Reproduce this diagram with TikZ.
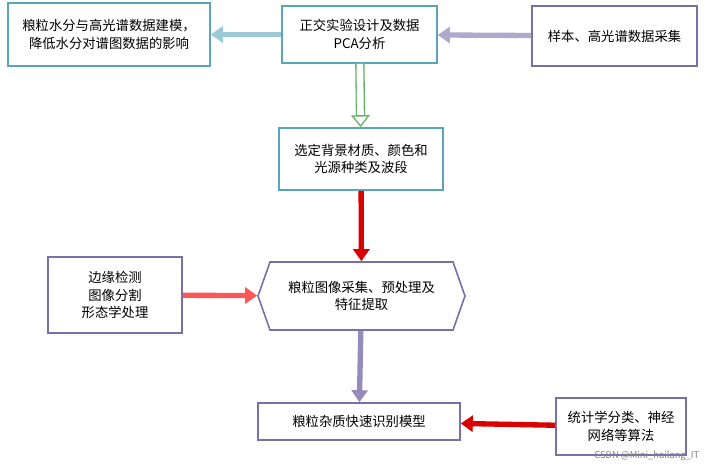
\documentclass[tikz,border=0pt]{standalone}
\usepackage{fontspec}
\setmainfont{Noto Sans CJK SC}
\usetikzlibrary{arrows.meta,shapes.geometric,shapes.misc}
\definecolor{tealb}{HTML}{5AA6B8}
\definecolor{purb}{HTML}{7A6FA8}
\begin{document}
\begin{tikzpicture}[x=0.75pt,y=-0.75pt,
  box/.style={draw=#1,line width=1.2pt,fill=white,align=center,font=\fontsize{10}{13}\selectfont,inner sep=0pt},
  fat/.style={line width=4pt,draw=#1,-{Triangle[length=9pt,width=12pt,fill=#1]}}]
\useasboundingbox[fill=white] (0,0) rectangle (706,468);
\node[box=tealb,minimum width=202*0.75pt,minimum height=63*0.75pt] (tl) at (109,34.5) {粮粒水分与高光谱数据建模，\\降低水分对谱图数据的影响};
\node[box=tealb,minimum width=155*0.75pt,minimum height=57*0.75pt] (tm) at (359.5,34.5) {正交实验设计及数据\\PCA分析};
\node[box=purb,minimum width=165*0.75pt,minimum height=60*0.75pt] (tr) at (614.5,36) {样本、高光谱数据采集};
\node[box=tealb,minimum width=164*0.75pt,minimum height=62*0.75pt] (m2) at (361,159) {选定背景材质、颜色和\\光源种类及波段};
\draw[purb,line width=1.2pt,fill=white] (258,296) -- (270,262) -- (453,262) -- (465,296) -- (453,330) -- (270,330) -- cycle;
\node[box=none,draw=none,fill=none,minimum width=207*0.75pt,minimum height=68*0.75pt] (hx) at (361.5,296) {粮粒图像采集、预处理及\\特征提取};
\node[box=purb,minimum width=134*0.75pt,minimum height=76*0.75pt] (lb) at (115,295) {边缘检测\\图像分割\\形态学处理};
\node[box=purb,minimum width=202*0.75pt,minimum height=37*0.75pt] (bm) at (359,421.5) {粮粒杂质快速识别模型};
\node[box=purb,minimum width=130*0.75pt,minimum height=57*0.75pt] (br) at (621,426.5) {统计学分类、神经\\网络等算法};
\draw[fat=purb!60] (tr) -- (tm);
\draw[fat=tealb!60] (tm) -- (tl);
\draw[line width=1pt,draw=green!50!black!60,double=white,double distance=5pt,-{Triangle[open,length=9pt,width=14pt]}] (tm) -- (m2);
\draw[fat=red!85!black] (m2) -- (hx);
\draw[fat=red!55!pink] (lb) -- (hx);
\draw[fat=purb!80] (hx) -- (bm);
\draw[fat=red!85!black] (br) -- (bm);
\node[text=gray,font=\fontsize{7}{8}\selectfont,anchor=south east] (wm) at (704,466) {CSDN @Mini\_hailang\_IT};
\end{tikzpicture}
\end{document}
